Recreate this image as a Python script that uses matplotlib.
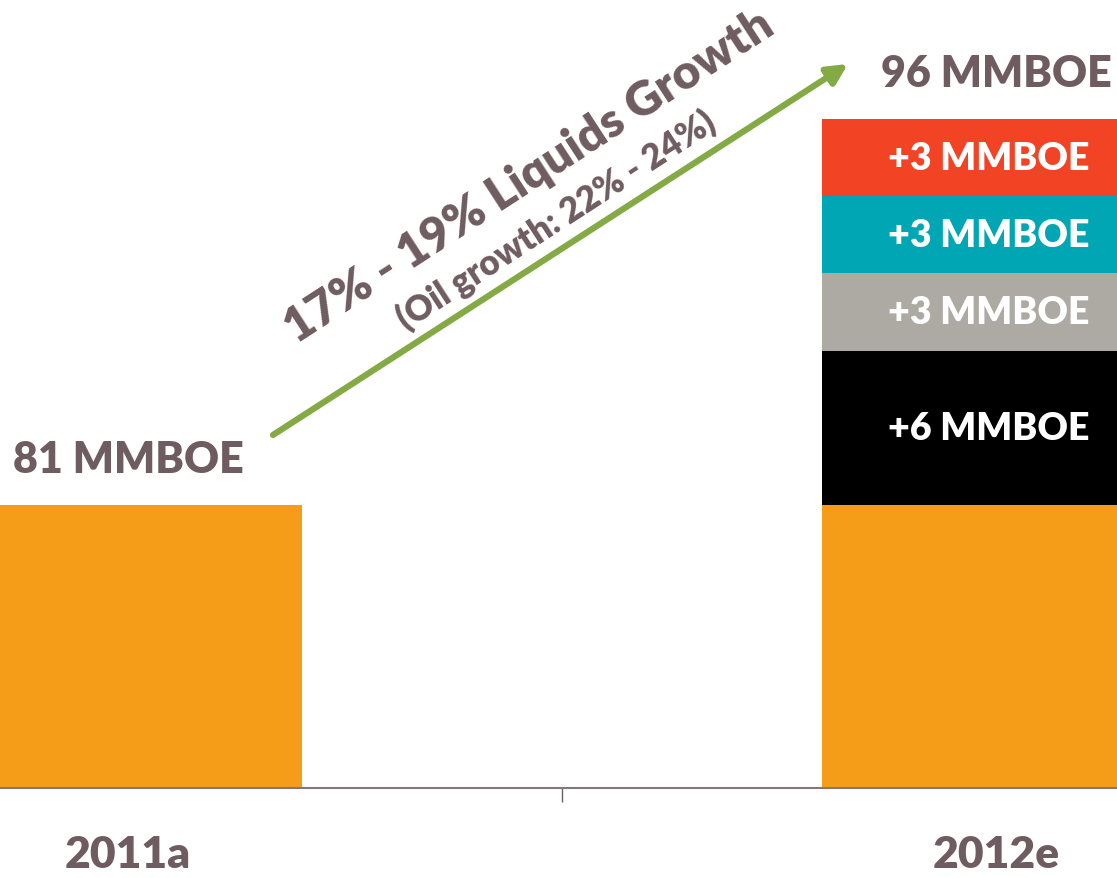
import matplotlib
matplotlib.use("Agg")
import matplotlib.pyplot as plt

categories = ["2011a", "2012e"]
base_values = [81, 81]
total_labels = ["81 MMBOE", "96 MMBOE"]
increments = [6, 3, 3, 3]
increment_labels = ["+6 MMBOE", "+3 MMBOE", "+3 MMBOE", "+3 MMBOE"]
increment_colors = ["#000000", "#ADA9A3", "#00A6B4", "#F24325"]
growth_title = "17% - 19% Liquids Growth"
growth_sub = "(Oil growth: 22% - 24%)"

TEXT = "#6E5C60"
ORANGE = "#F59D19"
FONT = "Lato"
W = "heavy"

fig = plt.figure(figsize=(11.17, 8.79), dpi=100)
ax = fig.add_axes([0, 90 / 879, 1, 789 / 879])

x = list(range(len(categories)))
bw = 0.4
ax.bar(x, base_values, width=bw, color=ORANGE, zorder=2)

bottom = base_values[1]
for val, lab, col in zip(increments, increment_labels, increment_colors):
    ax.bar(x[1], val, width=bw, bottom=bottom, color=col, zorder=2)
    ax.text((1090 - 128) / 868, bottom + val / 2, lab, color="white",
            fontsize=27, fontweight=W, family=FONT,
            ha="right", va="center", zorder=3)
    bottom += val

totals = [base_values[0], base_values[1] + sum(increments)]
for xi, t, lab in zip(x, totals, total_labels):
    ax.text(xi, t + 1.8, lab, color=TEXT, fontsize=31, fontweight=W,
            family=FONT, ha="center", va="center")

ax.set_xlim(-128 / 868, 989 / 868)
ax.set_ylim(70, 70 + 789 / 25.73)

# growth arrow
ax.annotate("", xy=(0.8295, 98.14), xytext=(0.167, 83.72),
            arrowprops=dict(arrowstyle="-|>,head_length=1.2,head_width=0.6",
                            color="#84AA45", lw=4.5, shrinkA=0, shrinkB=0))
ax.text((529 - 128) / 868, 70 + (789 - 177) / 25.73, growth_title, color=TEXT,
        fontsize=34.5, fontweight=W, family=FONT, rotation=33,
        rotation_mode="anchor", ha="center", va="center")
ax.text((556 - 128) / 868, 70 + (789 - 221) / 25.73, growth_sub, color=TEXT,
        fontsize=25, fontweight=W, family=FONT, rotation=33,
        rotation_mode="anchor", ha="center", va="center")

for s in ["top", "left", "right"]:
    ax.spines[s].set_visible(False)
ax.spines["bottom"].set_color("#857679")
ax.spines["bottom"].set_linewidth(1.5)
ax.set_yticks([])
ax.set_xticks(x)
ax.set_xticklabels(categories, fontsize=32, fontweight=W, family=FONT,
                   color=TEXT)
ax.tick_params(axis="x", length=0, pad=33)
ax.set_xticks([0.5], minor=True)
ax.tick_params(axis="x", which="minor", length=10, width=1, color="#6E5C60")

fig.savefig("out.png", dpi=100)
